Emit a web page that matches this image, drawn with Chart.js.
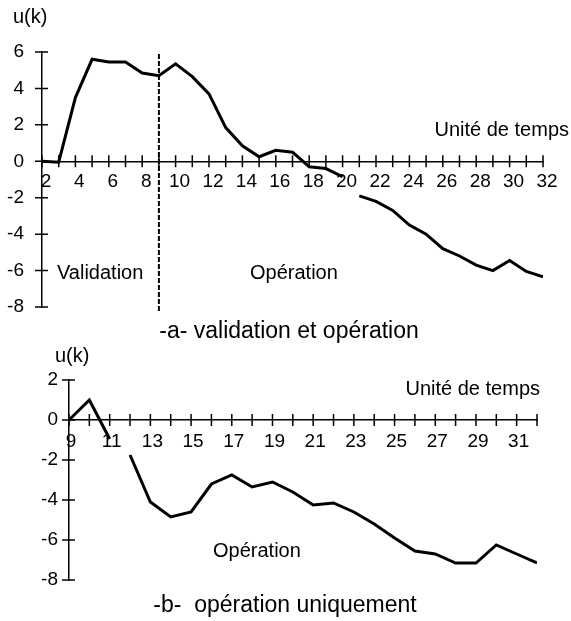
<!DOCTYPE html>
<html>
<head>
<meta charset="utf-8">
<title>u(k)</title>
<script src="https://cdn.jsdelivr.net/npm/chart.js@4.4.1/dist/chart.umd.min.js"></script>
<style>
    body { margin: 0; background: #fff; }
    #wrap { position: relative; width: 571px; height: 621px; }
    canvas { position: absolute; left: 0; }
</style>
</head>
<body>
<div id="wrap">
    <canvas id="chart-a" width="571" height="345" style="top:0"></canvas>
    <canvas id="chart-b" width="571" height="276" style="top:345px"></canvas>
</div>
<script>
// -a- validation et opération
const kA = [2, 3, 4, 5, 6, 7, 8, 9, 10, 11, 12, 13, 14, 15, 16, 17, 18, 19, 20, 21, 22, 23, 24, 25, 26, 27, 28, 29, 30, 31, 32];
const uA = [0, -0.05, 3.5, 5.6, 5.45, 5.45, 4.85, 4.7, 5.35, 4.65, 3.7, 1.85, 0.85, 0.25, 0.6, 0.5, -0.3, -0.4, -0.85, -1.9, -2.2, -2.7, -3.5, -4.0, -4.8, -5.2, -5.7, -6.0, -5.45, -6.05, -6.35];
const gapsA = [20];          // segment starting at this k is not drawn
const xLabelsA = [2, 4, 6, 8, 10, 12, 14, 16, 18, 20, 22, 24, 26, 28, 30, 32];
const yRangeA = [-8, 6];
const splitA = 9;            // validation | operation boundary

// -b- opération uniquement
const kB = [9, 10, 11, 12, 13, 14, 15, 16, 17, 18, 19, 20, 21, 22, 23, 24, 25, 26, 27, 28, 29, 30, 31, 32];
const uB = [0, 1.0, -0.95, -1.75, -4.1, -4.85, -4.6, -3.2, -2.75, -3.35, -3.1, -3.6, -4.25, -4.15, -4.6, -5.2, -5.9, -6.55, -6.7, -7.15, -7.15, -6.25, -6.7, -7.15];
const gapsB = [11];
const xLabelsB = [9, 11, 13, 15, 17, 19, 21, 23, 25, 27, 29, 31];
const yRangeB = [-8, 2];

const FONT = "'Liberation Sans', Arial, Helvetica, sans-serif";

// crossing tick marks on both axes + optional dashed divider
const axisMarks = {
    id: 'axisMarks',
    beforeDatasetsDraw(chart, args, opts) {
        const {ctx, scales: {x, y}, chartArea} = chart;
        const yAxisX = y.right;
        const xAxisY = y.getPixelForValue(0);
        ctx.save();
        ctx.strokeStyle = '#000';
        ctx.lineWidth = 1.5;
        ctx.beginPath();
        x.ticks.forEach(t => {
            const px = x.getPixelForValue(t.value);
            ctx.moveTo(px, xAxisY - 6);
            ctx.lineTo(px, xAxisY + 6);
        });
        y.ticks.forEach(t => {
            const py = y.getPixelForValue(t.value);
            ctx.moveTo(yAxisX - 7, py);
            ctx.lineTo(yAxisX + 6, py);
        });
        ctx.stroke();
        if (opts.divider !== undefined) {
            const px = x.getPixelForValue(opts.divider);
            ctx.setLineDash([5, 2]);
            ctx.lineWidth = 2;
            ctx.beginPath();
            ctx.moveTo(px, chartArea.top + 2);
            ctx.lineTo(px, chartArea.bottom + 5);
            ctx.stroke();
        }
        ctx.restore();
    }
};

// free text on the canvas
const notes = {
    id: 'notes',
    afterDraw(chart, args, opts) {
        const ctx = chart.ctx;
        ctx.save();
        ctx.fillStyle = '#000';
        ctx.textBaseline = 'middle';
        (opts.items || []).forEach(n => {
            ctx.font = (n.size || 20) + 'px ' + FONT;
            ctx.textAlign = n.align || 'left';
            ctx.fillText(n.text, n.x, n.y);
        });
        ctx.restore();
    }
};

function makeChart(id, cfg) {
    const points = cfg.k.map((k, i) => ({x: k, y: cfg.u[i]}));
    return new Chart(document.getElementById(id), {
        type: 'line',
        data: {
            datasets: [{
                data: points,
                borderColor: '#000',
                borderWidth: 3,
                pointRadius: 0,
                tension: 0,
                segment: {
                    borderColor: c => cfg.gaps.includes(c.p0.parsed.x) ? 'rgba(0,0,0,0)' : '#000'
                }
            }]
        },
        options: {
            responsive: false,
            animation: false,
            layout: { padding: cfg.padding },
            plugins: {
                legend: { display: false },
                tooltip: { enabled: false },
                axisMarks: { divider: cfg.divider },
                notes: { items: cfg.notes }
            },
            scales: {
                x: {
                    type: 'linear',
                    min: cfg.k[0],
                    max: cfg.k[cfg.k.length - 1],
                    position: { y: 0 },
                    grid: { display: false, drawTicks: false },
                    border: { color: '#000', width: 1.5 },
                    ticks: {
                        stepSize: 1,
                        autoSkip: false,
                        maxRotation: 0,
                        padding: cfg.xPad,
                        labelOffset: cfg.xShift,
                        color: '#000',
                        font: { size: 19, family: FONT },
                        callback: v => cfg.xLabels.includes(v) ? String(v) : ''
                    }
                },
                y: {
                    type: 'linear',
                    min: cfg.yRange[0],
                    max: cfg.yRange[1],
                    grid: { display: false, drawTicks: false },
                    border: { color: '#000', width: 1.5 },
                    ticks: {
                        stepSize: 2,
                        padding: cfg.yPad,
                        color: '#000',
                        font: { size: 19, family: FONT }
                    },
                    afterFit: s => { s.width = cfg.axisLeft; }
                }
            }
        },
        plugins: [axisMarks, notes]
    });
}

makeChart('chart-a', {
    k: kA, u: uA, gaps: gapsA, xLabels: xLabelsA, yRange: yRangeA, divider: splitA,
    axisLeft: 42, padding: { top: 52, right: 28, bottom: 38, left: 0 },
    xPad: 9, xShift: 4, yPad: 18,
    notes: [
        { text: 'u(k)', x: 13, y: 17 },
        { text: 'Unité de temps', x: 569, y: 130, align: 'right' },
        { text: 'Validation', x: 57, y: 273 },
        { text: 'Opération', x: 250, y: 273 },
        { text: '-a- validation et opération', x: 289, y: 332, align: 'center', size: 23 }
    ]
});

makeChart('chart-b', {
    k: kB, u: uB, gaps: gapsB, xLabels: xLabelsB, yRange: yRangeB,
    axisLeft: 69, padding: { top: 35, right: 34, bottom: 41, left: 0 },
    xPad: 10, xShift: 2, yPad: 11,
    notes: [
        { text: 'u(k)', x: 55, y: 11 },
        { text: 'Unité de temps', x: 540, y: 44, align: 'right' },
        { text: 'Opération', x: 213, y: 206 },
        { text: '-b-  opération uniquement', x: 285, y: 261, align: 'center', size: 23 }
    ]
});
</script>
</body>
</html>
